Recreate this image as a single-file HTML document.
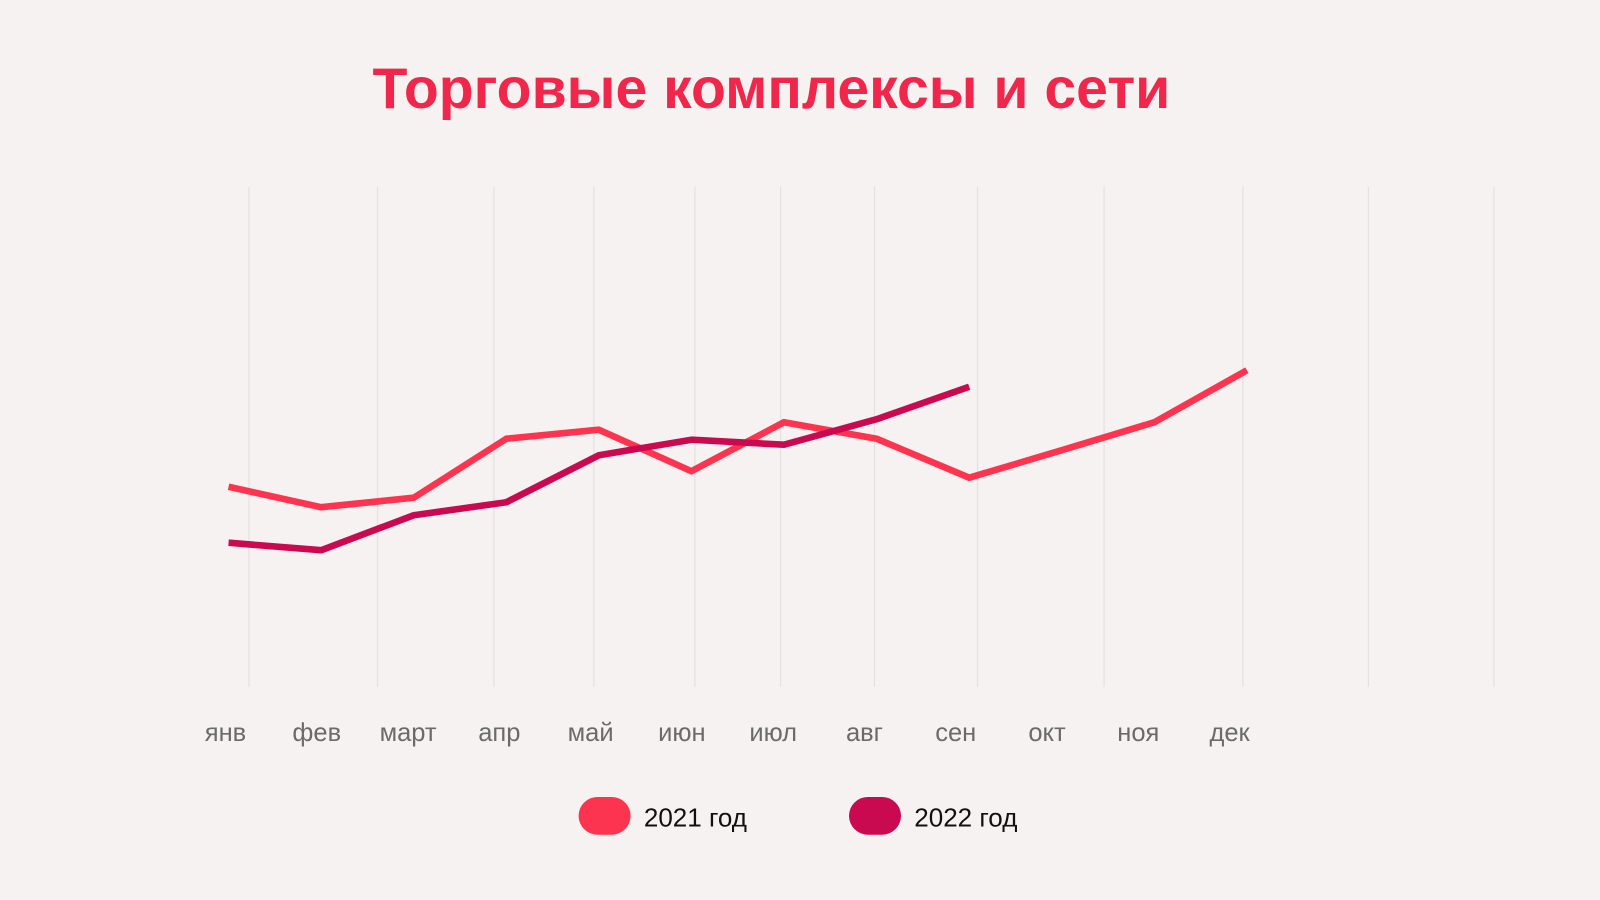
<!DOCTYPE html>
<html><head><meta charset="utf-8"><style>
html,body{margin:0;padding:0;background:#f7f2f2;}
svg{display:block;font-family:"Liberation Sans",sans-serif;}
</style></head><body>
<svg width="1600" height="900" viewBox="0 0 1568 882">
<rect width="1568" height="882" fill="#f7f2f2"/>
<text x="756" y="106" text-anchor="middle" font-size="56" font-weight="bold" fill="#f0264a">Торговые комплексы и сети</text>
<g id="grid"></g>
<g id="labels"></g>
<g id="lines"></g>
<g>
<g>
<rect x="567" y="781" width="51" height="37" rx="18.5" fill="#fd344f"/>
<text x="631" y="810" font-size="25.5" fill="#111">2021 год</text></g>
<g>
<rect x="832" y="781" width="51" height="37" rx="18.5" fill="#c90a50"/>
<text x="896" y="810" font-size="25.5" fill="#111">2022 год</text></g>
</g>
</svg>
<script>
const months = ["янв","фев","март","апр","май","июн","июл","авг","сен","окт","ноя","дек"];
const values2021 = [40, 35.9, 37.8, 49.6, 51.4, 43.1, 52.9, 49.6, 41.8, 47.3, 52.9, 63.3];
const values2022 = [28.8, 27.3, 34.3, 36.9, 46.3, 49.4, 48.4, 53.5, 60];
const gridX = [244,370,484,582,681,765,857,958,1082,1218,1341,1464];
const NS="http://www.w3.org/2000/svg";
function xScale(i){return 224 + i*(1222-224)/11;}
function labelX(i){return 221 + i*(1205-221)/11;}
function yScale(v){return 673 - v/100*490;}
const grid=document.getElementById('grid');
gridX.forEach(function(x){
  const l=document.createElementNS(NS,'line');
  l.setAttribute('x1',x);l.setAttribute('x2',x);l.setAttribute('y1',183);l.setAttribute('y2',673);
  l.setAttribute('stroke','#e6e0e0');l.setAttribute('stroke-width','1.2');
  
  
  grid.appendChild(l);
});
const lg=document.getElementById('labels');
months.forEach(function(m,i){
  const t=document.createElementNS(NS,'text');
  t.setAttribute('x',labelX(i));t.setAttribute('y',726);t.setAttribute('text-anchor','middle');
  t.setAttribute('font-size','25');t.setAttribute('fill','#6b6b6b');t.textContent=m;
  
  
  lg.appendChild(t);
});
function drawLine(vals,color,name){
  const p=document.createElementNS(NS,'polyline');
  p.setAttribute('points',vals.map(function(v,i){return xScale(i)+','+yScale(v);}).join(' '));
  p.setAttribute('fill','none');p.setAttribute('stroke',color);p.setAttribute('stroke-width','6.5');
  p.setAttribute('stroke-linejoin','round');
  
  
  document.getElementById('lines').appendChild(p);
}
drawLine(values2021,'#fd344f','line-2021');
drawLine(values2022,'#c90a50','line-2022');
</script>
</body></html>
